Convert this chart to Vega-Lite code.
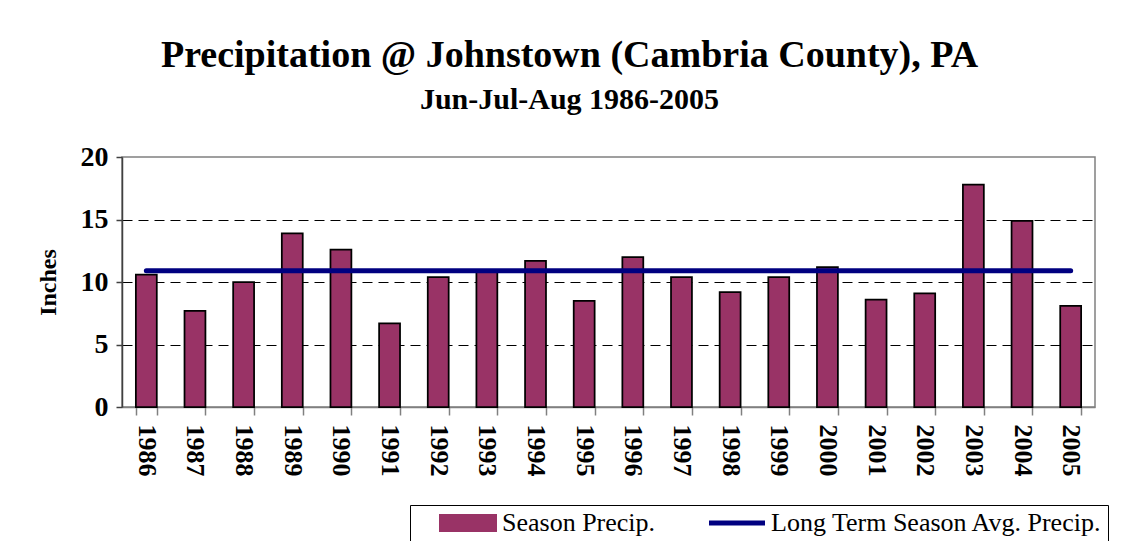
{
  "$schema": "https://vega.github.io/schema/vega-lite/v6.json",
  "width": 973,
  "height": 250,
  "autosize": "none",
  "padding": {"left": 122, "top": 157, "right": 30, "bottom": 134},
  "background": "white",
  "title": {
    "text": "Precipitation @ Johnstown (Cambria County), PA",
    "subtitle": "Jun-Jul-Aug 1986-2005",
    "font": "Liberation Serif",
    "fontSize": 38,
    "fontWeight": "bold",
    "color": "black",
    "subtitleFont": "Liberation Serif",
    "subtitleFontSize": 30,
    "subtitleFontWeight": "bold",
    "subtitleColor": "black",
    "subtitlePadding": 10,
    "anchor": "middle",
    "frame": "group",
    "dx": -39,
    "offset": 28
  },
  "data": {
    "values": [
      {"year": "1986", "precip": 10.6, "avg": 10.9},
      {"year": "1987", "precip": 7.7, "avg": 10.9},
      {"year": "1988", "precip": 10.0, "avg": 10.9},
      {"year": "1989", "precip": 13.9, "avg": 10.9},
      {"year": "1990", "precip": 12.6, "avg": 10.9},
      {"year": "1991", "precip": 6.7, "avg": 10.9},
      {"year": "1992", "precip": 10.4, "avg": 10.9},
      {"year": "1993", "precip": 10.8, "avg": 10.9},
      {"year": "1994", "precip": 11.7, "avg": 10.9},
      {"year": "1995", "precip": 8.5, "avg": 10.9},
      {"year": "1996", "precip": 12.0, "avg": 10.9},
      {"year": "1997", "precip": 10.4, "avg": 10.9},
      {"year": "1998", "precip": 9.2, "avg": 10.9},
      {"year": "1999", "precip": 10.4, "avg": 10.9},
      {"year": "2000", "precip": 11.2, "avg": 10.9},
      {"year": "2001", "precip": 8.6, "avg": 10.9},
      {"year": "2002", "precip": 9.1, "avg": 10.9},
      {"year": "2003", "precip": 17.8, "avg": 10.9},
      {"year": "2004", "precip": 14.9, "avg": 10.9},
      {"year": "2005", "precip": 8.1, "avg": 10.9}
    ]
  },
  "layer": [
    {
      "mark": {"type": "bar", "stroke": "black", "strokeWidth": 1.75},
      "encoding": {
        "x": {
          "field": "year",
          "type": "ordinal",
          "scale": {"paddingInner": 0.57, "paddingOuter": 0.285},
          "axis": {
            "title": null,
            "labelAngle": 90,
            "labelFont": "Liberation Serif",
            "labelFontSize": 26,
            "labelFontWeight": "bold",
            "labelColor": "black",
            "labelPadding": 9,
            "tickBand": "extent",
            "tickSize": 8,
            "tickColor": "#808080",
            "tickWidth": 1.5,
            "domainColor": "#808080",
            "domainWidth": 1.5
          }
        },
        "y": {
          "field": "precip",
          "type": "quantitative",
          "scale": {"domain": [0, 20]},
          "axis": {
            "title": "Inches",
            "values": [0, 5, 10, 15, 20],
            "labelFont": "Liberation Serif",
            "labelFontSize": 28,
            "labelFontWeight": "bold",
            "labelColor": "black",
            "labelPadding": 8,
            "titleFont": "Liberation Serif",
            "titleFontSize": 24,
            "titleFontWeight": "bold",
            "titleColor": "black",
            "titlePadding": 20,
            "domainColor": "#404040",
            "domainWidth": 1.5,
            "tickColor": "#404040",
            "tickSize": 6,
            "tickWidth": 1.5,
            "grid": true,
            "gridColor": "black",
            "gridDash": [10, 6],
            "gridWidth": 1,
            "gridOpacity": {"condition": {"test": "datum.value === 0 || datum.value === 20", "value": 0}, "value": 1}
          }
        },
        "color": {
          "datum": "Season Precip.",
          "scale": {
            "domain": ["Season Precip.", "Long Term Season Avg. Precip."],
            "range": ["#993366", "#000080"]
          },
          "legend": {
            "orient": "none",
            "legendX": 288,
            "legendY": 348,
            "direction": "horizontal",
            "title": null,
            "strokeColor": "black",
            "fillColor": "white",
            "padding": 5,
            "labelFont": "Liberation Serif",
            "labelFontSize": 26,
            "labelColor": "black",
            "labelLimit": 0,
            "symbolSize": 256,
            "symbolOffset": 40,
            "labelOffset": 21,
            "columnPadding": 28,
            "symbolStrokeColor": "black",
            "symbolStrokeWidth": 2,
            "encode": {
              "symbols": {
                "update": {
                  "shape": {"signal": "datum.value === 'Season Precip.' ? 'M-3.5,-1H3.5V1H-3.5Z' : 'M-3.5,0H3.5'"},
                  "fill": {"signal": "datum.value === 'Season Precip.' ? '#993366' : 'transparent'"},
                  "stroke": {"signal": "datum.value === 'Season Precip.' ? 'black' : '#000080'"},
                  "strokeWidth": {"signal": "datum.value === 'Season Precip.' ? 2 : 5"},
                  "strokeOpacity": {"value": 1},
                  "opacity": {"value": 1}
                }
              }
            }
          }
        }
      }
    },
    {
      "mark": {"type": "line", "strokeWidth": 5, "strokeCap": "round"},
      "encoding": {
        "x": {"field": "year", "type": "ordinal"},
        "y": {"field": "avg", "type": "quantitative"},
        "color": {
          "datum": "Long Term Season Avg. Precip.",
          "legend": {
            "orient": "none",
            "legendX": 288,
            "legendY": 348,
            "direction": "horizontal",
            "title": null,
            "strokeColor": "black",
            "fillColor": "white",
            "padding": 5,
            "labelFont": "Liberation Serif",
            "labelFontSize": 26,
            "labelColor": "black",
            "labelLimit": 0,
            "symbolSize": 256,
            "symbolOffset": 40,
            "labelOffset": 21,
            "columnPadding": 28,
            "symbolStrokeColor": "black",
            "symbolStrokeWidth": 2,
            "encode": {
              "symbols": {
                "update": {
                  "shape": {"signal": "datum.value === 'Season Precip.' ? 'M-3.5,-1H3.5V1H-3.5Z' : 'M-3.5,0H3.5'"},
                  "fill": {"signal": "datum.value === 'Season Precip.' ? '#993366' : 'transparent'"},
                  "stroke": {"signal": "datum.value === 'Season Precip.' ? 'black' : '#000080'"},
                  "strokeWidth": {"signal": "datum.value === 'Season Precip.' ? 2 : 5"},
                  "strokeOpacity": {"value": 1},
                  "opacity": {"value": 1}
                }
              }
            }
          }
        }
      }
    }
  ],
  "config": {
    "view": {"stroke": "#808080", "strokeWidth": 1.5}
  }
}
